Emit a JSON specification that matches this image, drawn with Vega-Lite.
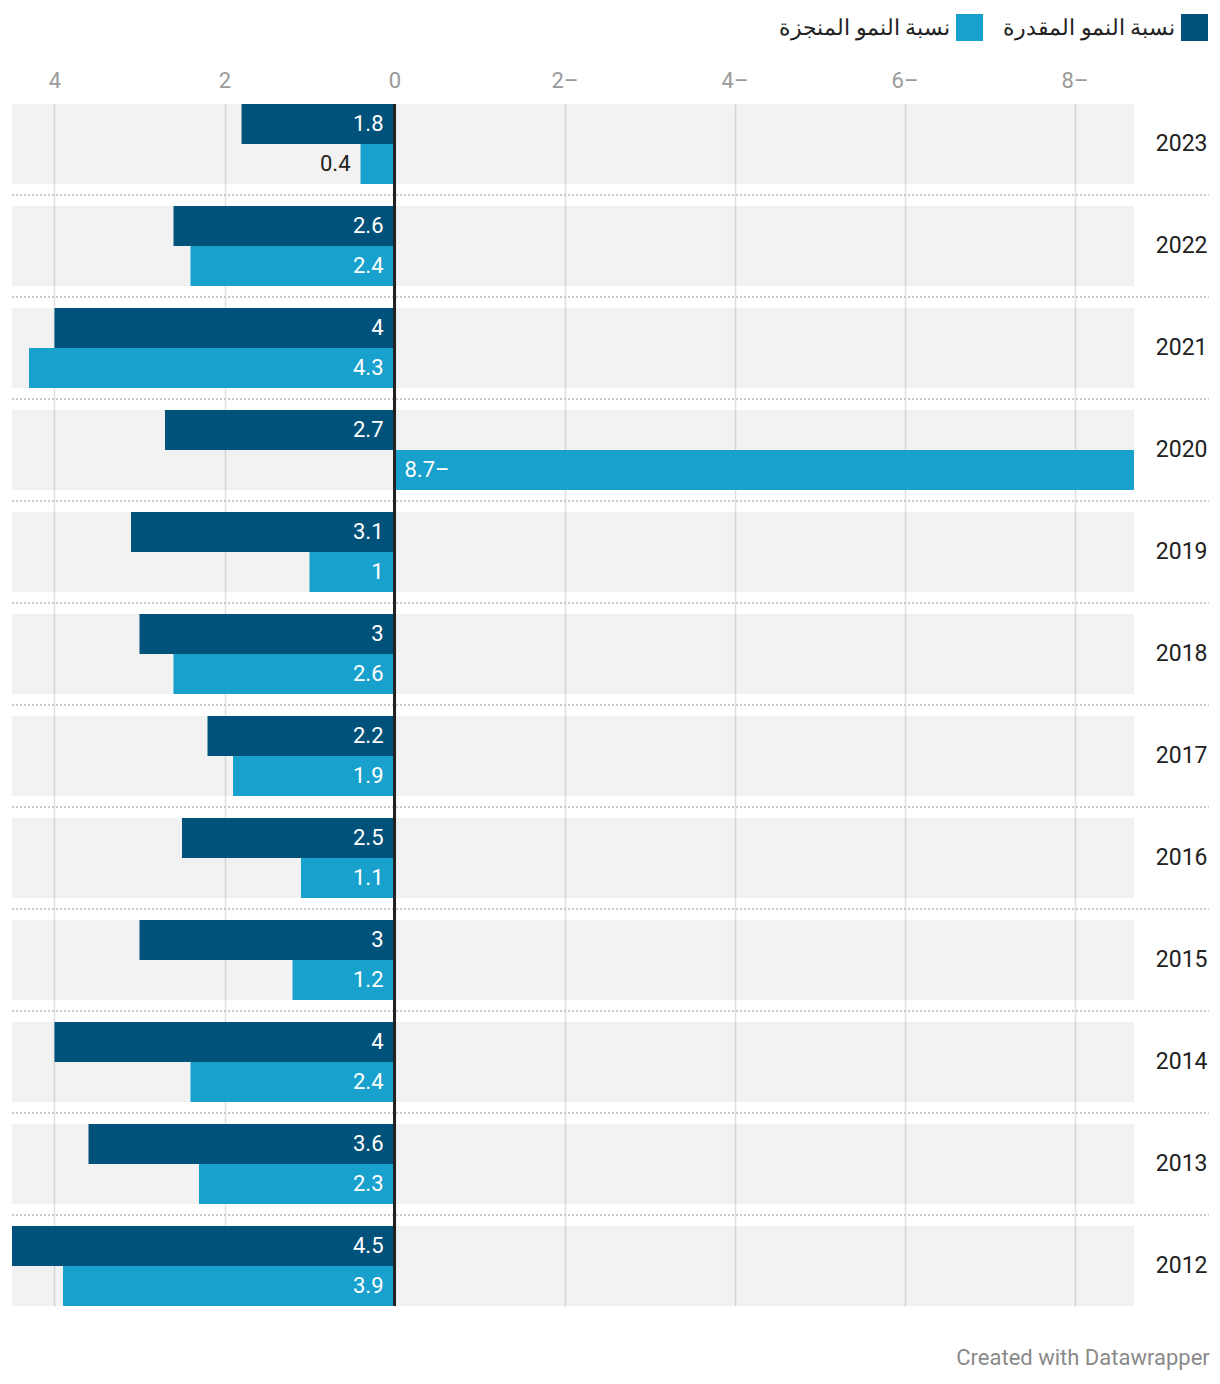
{
  "$schema": "https://vega.github.io/schema/vega-lite/v6.json",
  "width": 1122,
  "height": 1202,
  "autosize": {"type": "none"},
  "padding": {"left": 12, "top": 104, "right": 86, "bottom": 78},
  "background": "#ffffff",
  "config": {
    "font": "Roboto",
    "view": {"stroke": null},
    "title": {"font": "Roboto"}
  },
  "title": {
    "text": "Created with Datawrapper",
    "orient": "bottom",
    "anchor": "end",
    "fontSize": 22,
    "fontWeight": "normal",
    "color": "#8a8a8a",
    "offset": 41
  },
  "data": {
    "values": [
      {"year": "2023", "series": "نسبة النمو المقدرة", "value": 1.8},
      {"year": "2023", "series": "نسبة النمو المنجزة", "value": 0.4},
      {"year": "2022", "series": "نسبة النمو المقدرة", "value": 2.6},
      {"year": "2022", "series": "نسبة النمو المنجزة", "value": 2.4},
      {"year": "2021", "series": "نسبة النمو المقدرة", "value": 4},
      {"year": "2021", "series": "نسبة النمو المنجزة", "value": 4.3},
      {"year": "2020", "series": "نسبة النمو المقدرة", "value": 2.7},
      {"year": "2020", "series": "نسبة النمو المنجزة", "value": -8.7},
      {"year": "2019", "series": "نسبة النمو المقدرة", "value": 3.1},
      {"year": "2019", "series": "نسبة النمو المنجزة", "value": 1},
      {"year": "2018", "series": "نسبة النمو المقدرة", "value": 3},
      {"year": "2018", "series": "نسبة النمو المنجزة", "value": 2.6},
      {"year": "2017", "series": "نسبة النمو المقدرة", "value": 2.2},
      {"year": "2017", "series": "نسبة النمو المنجزة", "value": 1.9},
      {"year": "2016", "series": "نسبة النمو المقدرة", "value": 2.5},
      {"year": "2016", "series": "نسبة النمو المنجزة", "value": 1.1},
      {"year": "2015", "series": "نسبة النمو المقدرة", "value": 3},
      {"year": "2015", "series": "نسبة النمو المنجزة", "value": 1.2},
      {"year": "2014", "series": "نسبة النمو المقدرة", "value": 4},
      {"year": "2014", "series": "نسبة النمو المنجزة", "value": 2.4},
      {"year": "2013", "series": "نسبة النمو المقدرة", "value": 3.6},
      {"year": "2013", "series": "نسبة النمو المنجزة", "value": 2.3},
      {"year": "2012", "series": "نسبة النمو المقدرة", "value": 4.5},
      {"year": "2012", "series": "نسبة النمو المنجزة", "value": 3.9}
    ]
  },
  "encoding": {
    "y": {
      "field": "year",
      "type": "nominal",
      "sort": "descending",
      "scale": {"paddingInner": 0.2157, "paddingOuter": 0},
      "axis": {
        "orient": "right",
        "title": null,
        "domain": false,
        "ticks": false,
        "grid": false,
        "labelFontSize": 23,
        "labelColor": "#222222",
        "labelAlign": "right",
        "labelBaseline": "middle",
        "labelPadding": 73
      }
    }
  },
  "layer": [
    {
      "transform": [{"filter": "datum.series == 'نسبة النمو المقدرة'"}],
      "mark": {"type": "bar", "color": "#000000", "opacity": 0.05},
      "encoding": {
        "x": {
          "datum": 4.5,
          "type": "quantitative",
          "scale": {"domain": [-8.7, 4.5], "reverse": true, "nice": false, "zero": false},
          "axis": {
            "orient": "top",
            "title": null,
            "values": [-8, -6, -4, -2, 0, 2, 4],
            "labelExpr": "datum.value < 0 ? format(-datum.value, 'd') + '–' : format(datum.value, 'd')",
            "domain": false,
            "ticks": false,
            "grid": true,
            "gridColor": "#e0e0e0",
            "gridWidth": 1.5,
            "labelFontSize": 22,
            "labelColor": "#9a9a9a",
            "labelPadding": 12
          }
        },
        "x2": {"datum": -8.7}
      }
    },
    {
      "transform": [{"filter": "datum.series == 'نسبة النمو المقدرة' && datum.year != '2023'"}],
      "mark": {"type": "rule", "color": "#c8c8c8", "strokeWidth": 2, "strokeDash": [2, 2], "yOffset": -11},
      "encoding": {
        "x": {"datum": 4.5, "type": "quantitative"},
        "x2": {"datum": -9.58},
        "y": {"field": "year", "type": "nominal", "sort": "descending", "bandPosition": 0}
      }
    },
    {
      "mark": {"type": "bar"},
      "encoding": {
        "x": {"field": "value", "type": "quantitative"},
        "x2": {"datum": 0},
        "yOffset": {
          "field": "series",
          "type": "nominal",
          "scale": {"domain": ["نسبة النمو المقدرة", "نسبة النمو المنجزة"], "paddingInner": 0, "paddingOuter": 0}
        },
        "color": {
          "field": "series",
          "type": "nominal",
          "scale": {"domain": ["نسبة النمو المنجزة", "نسبة النمو المقدرة"], "range": ["#18a1cd", "#00527a"]},
          "legend": {
            "title": null,
            "orient": "none",
            "direction": "horizontal",
            "legendX": 944,
            "legendY": -90,
            "symbolType": "square",
            "symbolSize": 729,
            "symbolStrokeWidth": 0,
            "symbolOpacity": 1,
            "labelFontSize": 22,
            "labelColor": "#222222",
            "labelAlign": "right",
            "labelOffset": -33,
            "labelLimit": 400,
            "columnPadding": 20
          }
        }
      }
    },
    {
      "mark": {"type": "rule", "color": "#222222", "strokeWidth": 2},
      "encoding": {"x": {"datum": 0, "type": "quantitative"}, "y": null}
    },
    {
      "transform": [{"filter": "datum.value >= 0.8"}],
      "mark": {"type": "text", "align": "right", "baseline": "middle", "dx": -11, "fontSize": 22, "color": "#ffffff"},
      "encoding": {
        "x": {"datum": 0, "type": "quantitative"},
        "yOffset": {"field": "series", "type": "nominal"},
        "text": {"field": "value", "type": "quantitative", "format": ".1~f"}
      }
    },
    {
      "transform": [{"filter": "datum.value >= 0 && datum.value < 0.8"}],
      "mark": {"type": "text", "align": "right", "baseline": "middle", "dx": -10, "fontSize": 22, "color": "#222222"},
      "encoding": {
        "x": {"field": "value", "type": "quantitative"},
        "yOffset": {"field": "series", "type": "nominal"},
        "text": {"field": "value", "type": "quantitative", "format": ".1~f"}
      }
    },
    {
      "transform": [
        {"filter": "datum.value < 0"},
        {"calculate": "format(-datum.value, '.1~f') + '–'", "as": "lbl"}
      ],
      "mark": {"type": "text", "align": "left", "baseline": "middle", "dx": 10, "fontSize": 22, "color": "#ffffff"},
      "encoding": {
        "x": {"datum": 0, "type": "quantitative"},
        "yOffset": {"field": "series", "type": "nominal"},
        "text": {"field": "lbl", "type": "nominal"}
      }
    }
  ]
}
